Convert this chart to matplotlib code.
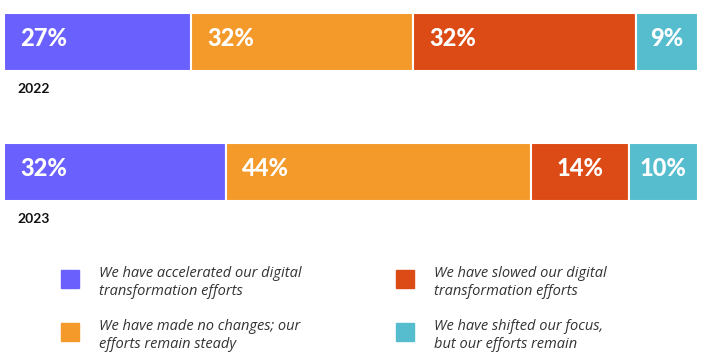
import matplotlib.pyplot as plt
from matplotlib.patches import Rectangle

years = ["2022", "2023"]
shares_2022 = [27, 32, 32, 9]
shares_2023 = [32, 44, 14, 10]
colors = ["#6A60FE", "#F39A2B", "#DC4A15", "#55BDCE"]
legend_labels = [
    "We have accelerated our digital\ntransformation efforts",
    "We have made no changes; our\nefforts remain steady",
    "We have slowed our digital\ntransformation efforts",
    "We have shifted our focus,\nbut our efforts remain",
]

plt.rcParams['font.family'] = ['Lato', 'DejaVu Sans']

W, H = 718, 353
fig = plt.figure(figsize=(W / 100, H / 100), dpi=100)
# axes spans the bar area horizontally, whole figure vertically (pixel units in y)
ax = fig.add_axes([4 / W, 0, 694 / W, 1])
ax.set_xlim(0, 100)
ax.set_ylim(H, 0)
ax.axis("off")

bar_y = [42, 172]
bar_h = 58
for yc, year, shares in zip(bar_y, years, [shares_2022, shares_2023]):
    left = 0
    for val, col in zip(shares, colors):
        ax.barh(yc, val, left=left, height=bar_h, color=col,
                edgecolor="white", linewidth=1.5)
        if val < 15:
            ax.text(left + val / 2, yc - 4, f"{val}%", ha="center", va="center",
                    color="white", fontsize=17, fontweight="black")
        else:
            ax.text(left + 2.3, yc - 4, f"{val}%", ha="left", va="center",
                    color="white", fontsize=17, fontweight="black")
        left += val
    ax.text(2.0, yc + bar_h / 2 + 18, year, ha="left", va="center",
            fontsize=10, fontweight="bold", color="#111111")

# legend, two columns
sq = 18
pos = [(61, 270), (61, 323), (396, 270), (396, 323)]
for (px, py), col, lab in zip(pos, colors, legend_labels):
    fig.patches.append(Rectangle((px / W, 1 - (py + sq) / H), sq / W, sq / H,
                                 transform=fig.transFigure, color=col))
    fig.text((px + 38) / W, 1 - (py - 4) / H, lab, ha="left", va="top",
             fontsize=10.5, style="italic", color="#333333", linespacing=1.25,
             family=["Open Sans", "DejaVu Sans"])

fig.savefig("out.png", dpi=100)
